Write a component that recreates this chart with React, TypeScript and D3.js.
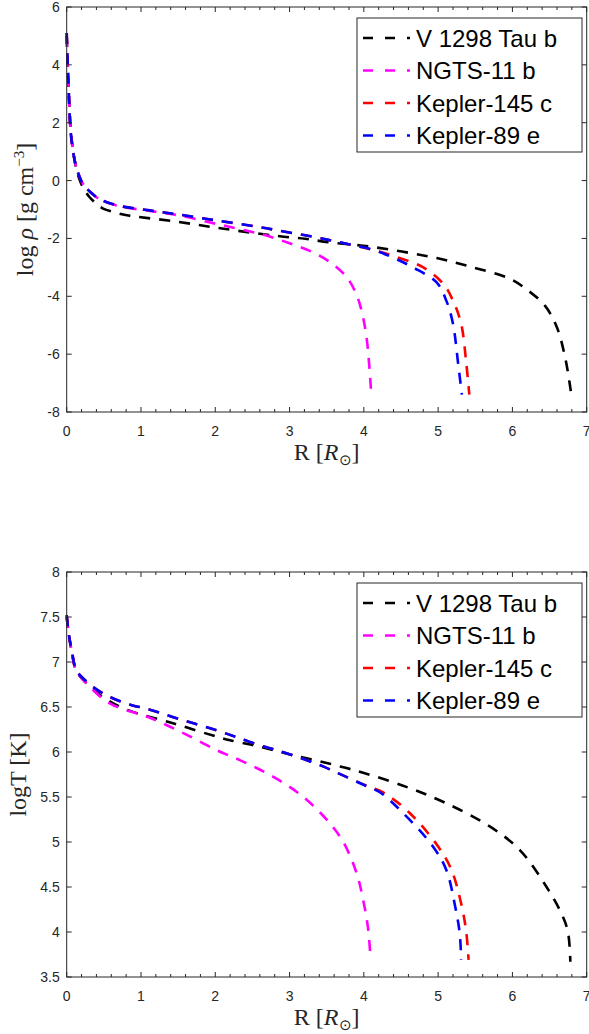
import React from "react";
import * as d3 from "d3";

// planets, in drawing order (blue ends up on top)
const names = ["V 1298 Tau b", "NGTS-11 b", "Kepler-145 c", "Kepler-89 e"];
const colors = ["#000000", "#ff00ff", "#ff0000", "#0000ff"];

// log rho [g cm^-3] vs R [R_sun]
const rhoV1298: [number, number][] = [
  [0, 5.0], [0.01, 4.2], [0.025, 3.2], [0.04, 2.4], [0.06, 1.6], [0.1, 0.8],
  [0.15, 0.2], [0.22, -0.24], [0.3, -0.55], [0.4, -0.8], [0.49, -0.97],
  [0.65, -1.1], [0.81, -1.2], [1.43, -1.4], [2.02, -1.63], [2.6, -1.84],
  [2.92, -1.94], [3.21, -2.01], [3.52, -2.13], [4.13, -2.3], [4.98, -2.68],
  [5.38, -2.94], [5.97, -3.4], [6.21, -3.8], [6.44, -4.33], [6.6, -5.08],
  [6.71, -6.12], [6.77, -7.0], [6.8, -7.55],
];
const rhoNGTS11: [number, number][] = [
  [0, 5.0], [0.01, 4.3], [0.02, 3.6], [0.035, 2.6], [0.05, 1.8], [0.08, 1.1],
  [0.12, 0.55], [0.17, 0.15], [0.22, -0.12], [0.31, -0.38], [0.45, -0.66],
  [0.7, -0.88], [1.12, -1.05], [1.5, -1.2], [2.02, -1.5], [2.4, -1.72],
  [2.69, -1.9], [3.0, -2.17], [3.28, -2.44], [3.55, -2.83], [3.77, -3.34],
  [3.91, -4.0], [3.99, -4.73], [4.04, -5.5], [4.07, -6.3], [4.09, -7.0], [4.1, -7.4],
];
const rhoKepler145: [number, number][] = [
  [0, 5.1], [0.01, 4.3], [0.02, 3.6], [0.035, 2.6], [0.05, 1.8], [0.08, 1.1],
  [0.12, 0.55], [0.17, 0.15], [0.22, -0.12], [0.31, -0.38], [0.45, -0.65],
  [0.7, -0.87], [1.12, -1.03], [1.5, -1.17], [2.02, -1.38], [2.6, -1.61],
  [2.92, -1.76], [3.23, -1.9], [3.52, -2.05], [3.81, -2.21], [4.13, -2.4],
  [4.45, -2.65], [4.8, -3.0], [5.07, -3.57], [5.2, -4.15], [5.31, -4.95],
  [5.38, -6.34], [5.42, -7.4],
];
const rhoKepler89: [number, number][] = [
  [0, 5.1], [0.01, 4.3], [0.02, 3.6], [0.035, 2.6], [0.05, 1.8], [0.08, 1.1],
  [0.12, 0.55], [0.17, 0.15], [0.22, -0.12], [0.31, -0.38], [0.45, -0.65],
  [0.7, -0.87], [1.12, -1.03], [1.5, -1.17], [2.02, -1.38], [2.6, -1.61],
  [2.92, -1.76], [3.23, -1.9], [3.52, -2.05], [3.81, -2.21], [4.13, -2.4],
  [4.38, -2.65], [4.66, -3.0], [4.98, -3.52], [5.11, -4.15], [5.2, -4.95],
  [5.27, -6.34], [5.32, -7.4],
];

// log T [K] vs R [R_sun], bottom panel
const tV1298: [number, number][] = [
  [0, 7.5], [0.03, 7.3], [0.067, 7.12], [0.13, 6.9], [0.27, 6.76], [0.49, 6.61],
  [0.81, 6.47], [1.43, 6.32], [2.02, 6.17], [2.2, 6.13], [2.49, 6.08],
  [2.78, 6.02], [3.07, 5.96], [3.39, 5.9], [3.68, 5.84], [3.99, 5.77],
  [4.58, 5.61], [5.11, 5.43], [5.7, 5.17], [6.1, 4.91], [6.46, 4.5],
  [6.68, 4.17], [6.75, 3.99], [6.78, 3.67],
];
const tNGTS11: [number, number][] = [
  [0, 7.5], [0.03, 7.3], [0.067, 7.12], [0.13, 6.9], [0.27, 6.76], [0.58, 6.54],
  [1.12, 6.38], [1.57, 6.21], [2.02, 6.02], [2.33, 5.91], [2.61, 5.8],
  [2.89, 5.67], [3.14, 5.53], [3.36, 5.37], [3.57, 5.18], [3.73, 4.99],
  [3.9, 4.66], [3.99, 4.36], [4.06, 4.02], [4.09, 3.69],
];
const tKepler145: [number, number][] = [
  [0, 7.52], [0.03, 7.3], [0.067, 7.13], [0.13, 6.91], [0.27, 6.78], [0.49, 6.65],
  [0.8, 6.54], [1.12, 6.47], [1.5, 6.37], [2.02, 6.24], [2.27, 6.17],
  [2.58, 6.08], [2.87, 6.01], [3.16, 5.93], [3.45, 5.84], [3.72, 5.74],
  [4.02, 5.63], [4.26, 5.55], [4.62, 5.32], [5.0, 4.95], [5.18, 4.69],
  [5.32, 4.28], [5.38, 3.99], [5.41, 3.69],
];
const tKepler89: [number, number][] = [
  [0, 7.52], [0.03, 7.3], [0.067, 7.13], [0.13, 6.91], [0.27, 6.78], [0.49, 6.65],
  [0.8, 6.54], [1.12, 6.47], [1.5, 6.37], [2.02, 6.24], [2.27, 6.17],
  [2.58, 6.08], [2.87, 6.01], [3.16, 5.93], [3.45, 5.84], [3.72, 5.74],
  [4.01, 5.63], [4.22, 5.55], [4.53, 5.32], [4.93, 4.95], [5.11, 4.69],
  [5.23, 4.28], [5.29, 3.99], [5.31, 3.69],
];

const xTicks = [0, 1, 2, 3, 4, 5, 6, 7];
const rhoTicks = [-8, -6, -4, -2, 0, 2, 4, 6];
const tTicks = [3.5, 4, 4.5, 5, 5.5, 6, 6.5, 7, 7.5, 8];

const sans = "'Liberation Sans', Arial, sans-serif";
const serif = "'Liberation Serif', 'Times New Roman', serif";
const axisColor = "#262626";

type PanelProps = {
  top: number;
  series: [number, number][][];
  yDomain: [number, number];
  yTicks: number[];
  yLabel: React.ReactNode;
  yLabelX: number;
};

const left = 66.7;
const right = 586.7;
const plotH = 405;

const Panel = ({ top, series, yDomain, yTicks, yLabel, yLabelX }: PanelProps) => {
  const x = d3.scaleLinear().domain([0, 7]).range([left, right]);
  const y = d3.scaleLinear().domain(yDomain).range([top + plotH, top]);
  const line = d3
    .line<[number, number]>()
    .x((d) => x(d[0]))
    .y((d) => y(d[1]))
    .curve(d3.curveCatmullRom.alpha(0.5));
  const bottom = top + plotH;
  const minor = d3.range(0, 7.01, 0.2);

  const lgX = 357, lgY = top + 11, lgW = 225, lgH = 134;

  return (
    <g>
      {series.map((s, i) => (
        <path
          key={i}
          d={line(s) || ""}
          fill="none"
          stroke={colors[i]}
          strokeWidth={2.6}
          strokeDasharray="11,9"
        />
      ))}

      {/* box */}
      <rect x={left} y={top} width={right - left} height={plotH} fill="none" stroke={axisColor} strokeWidth={1} />

      {minor.map((t, i) => {
        const major = Math.abs(t - Math.round(t)) < 1e-6;
        const len = major ? 5 : 3;
        return (
          <g key={i} stroke={axisColor} strokeWidth={1}>
            <line x1={x(t)} x2={x(t)} y1={bottom} y2={bottom - len} />
            <line x1={x(t)} x2={x(t)} y1={top} y2={top + len} />
          </g>
        );
      })}
      {yTicks.map((t) => (
        <g key={t} stroke={axisColor} strokeWidth={1}>
          <line x1={left} x2={left + 5} y1={y(t)} y2={y(t)} />
          <line x1={right} x2={right - 5} y1={y(t)} y2={y(t)} />
        </g>
      ))}

      {xTicks.map((t) => (
        <text key={t} x={x(t)} y={bottom + 24} textAnchor="middle" fontFamily={sans} fontSize={14} fill={axisColor}>
          {t}
        </text>
      ))}
      {yTicks.map((t) => (
        <text key={t} x={left - 7} y={y(t)} dy="0.36em" textAnchor="end" fontFamily={sans} fontSize={14} fill={axisColor}>
          {t}
        </text>
      ))}

      <text x={(left + right) / 2} y={bottom + 48} textAnchor="middle" fontFamily={serif} fontSize={24} fill={axisColor}>
        R [<tspan fontStyle="italic">R</tspan>
        <tspan fontSize={15} dy={5}>⊙</tspan>
        <tspan dy={-5}>]</tspan>
      </text>

      <text
        transform={`translate(${yLabelX},${top + plotH / 2}) rotate(-90)`}
        textAnchor="middle"
        fontFamily={serif}
        fontSize={24}
        fill={axisColor}
      >
        {yLabel}
      </text>

      {/* legend */}
      <rect x={lgX} y={lgY} width={lgW} height={lgH} fill="#fff" stroke={axisColor} strokeWidth={1} />
      {names.map((n, i) => {
        const ry = lgY + 20 + i * 32.5;
        return (
          <g key={n}>
            <line x1={lgX + 6} x2={lgX + 53} y1={ry} y2={ry} stroke={colors[i]} strokeWidth={2.6} strokeDasharray="10,12" />
            <text x={lgX + 59} y={ry} dy="0.36em" fontFamily={sans} fontSize={24} fill="#000">
              {n}
            </text>
          </g>
        );
      })}
    </g>
  );
};

export default function App() {
  return (
    <svg
      width={589}
      height={1034}
      style={{ position: "absolute", left: 0, top: 0, background: "#fff" }}
    >
      <Panel
        top={7}
        series={[rhoV1298, rhoNGTS11, rhoKepler145, rhoKepler89]}
        yDomain={[-8, 6]}
        yTicks={rhoTicks}
        yLabelX={33}
        yLabel={
          <>
            log <tspan fontStyle="italic">ρ</tspan> [g cm
            <tspan fontSize={15} dy={-9}>−3</tspan>
            <tspan dy={9}>]</tspan>
          </>
        }
      />
      <Panel
        top={572}
        series={[tV1298, tNGTS11, tKepler145, tKepler89]}
        yDomain={[3.5, 8]}
        yTicks={tTicks}
        yLabelX={26}
        yLabel={<>logT [K]</>}
      />
    </svg>
  );
}
